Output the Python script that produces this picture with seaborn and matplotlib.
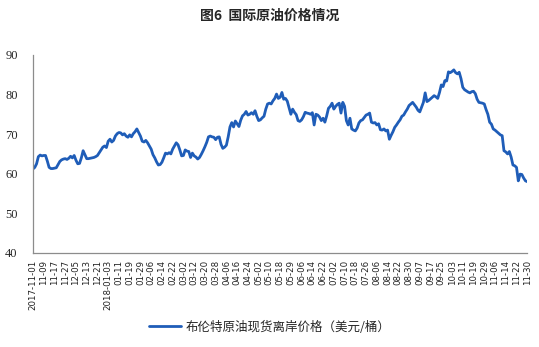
import matplotlib
matplotlib.use("Agg")
import matplotlib.pyplot as plt
import seaborn as sns
import pandas as pd

# Brent spot FOB price, trading days 2017-11-01 .. 2018-11-30 (USD/bbl)
prices = [
    61.2, 61.6, 62.5, 64.3, 64.7, 64.5,
    64.6, 64.6, 63.2, 61.6, 61.3, 61.3,
    61.4, 61.5, 62.3, 63.1, 63.5, 63.7,
    63.8, 63.6, 63.9, 64.4, 64.0, 64.6,
    63.4, 62.5, 62.6, 64.0, 65.8, 64.8,
    63.8, 63.8, 63.9, 64.0, 64.1, 64.3,
    64.6, 65.3, 66.0, 66.7, 67.0, 66.6,
    68.2, 68.7, 68.0, 68.4, 69.5, 70.1,
    70.4, 70.3, 69.8, 70.1, 69.5, 69.2,
    69.8, 69.3, 70.1, 70.6, 71.3, 70.4,
    69.5, 68.2, 68.0, 68.4, 67.8, 67.0,
    66.2, 64.8, 64.0, 63.0, 62.2, 62.3,
    62.9, 64.0, 65.2, 65.0, 65.3, 65.0,
    66.2, 67.0, 67.8, 67.3, 66.0, 64.5,
    64.6, 66.0, 65.7, 65.6, 64.1, 65.2,
    64.5, 64.2, 63.7, 64.1, 64.9, 65.8,
    66.8, 67.9, 69.3, 69.5, 69.3, 69.2,
    68.6, 69.2, 69.3, 67.4, 66.4, 66.7,
    67.2, 69.3, 71.8, 72.9, 71.8, 73.3,
    72.6, 71.9, 73.5, 74.6, 75.0, 75.7,
    74.8, 75.0, 75.4, 75.0, 75.9, 74.5,
    73.4, 73.6, 74.1, 74.5, 76.3, 77.6,
    77.8, 77.6, 78.4, 79.0, 80.1, 79.0,
    79.3, 80.5, 78.8, 79.0, 78.3, 76.7,
    75.0, 76.3, 75.5, 74.9, 73.4, 73.2,
    73.6, 74.4, 75.5, 75.3, 75.2, 75.0,
    75.4, 72.3, 75.0, 74.8, 74.3, 73.4,
    74.0, 73.0, 74.6, 76.5, 77.0, 77.8,
    76.3, 77.0, 77.5, 77.8, 75.3, 78.0,
    77.0, 73.4, 72.3, 74.0, 71.3, 71.0,
    70.8, 71.5, 72.8, 73.4, 73.6, 74.2,
    74.8, 75.0, 75.3, 73.0, 72.8, 72.9,
    72.3, 72.6, 71.1, 71.0, 71.3, 70.8,
    71.0, 68.7, 69.7, 70.6, 71.7, 72.3,
    73.0, 73.6, 74.5, 74.8, 75.6, 76.3,
    77.2, 77.6, 78.0, 77.4, 76.8, 76.0,
    75.6, 76.8, 78.0, 80.4, 78.2, 78.5,
    78.9, 79.3, 79.7, 79.4, 79.0, 80.5,
    82.4, 82.0, 83.5, 83.4, 85.7, 85.5,
    85.8, 86.2, 85.5, 85.2, 85.6, 84.0,
    81.8, 81.2, 80.9, 80.6, 80.4, 80.7,
    80.8, 80.2, 78.8, 78.0, 77.9, 77.8,
    77.6, 76.2, 75.0, 73.0, 72.5, 71.3,
    71.0, 70.6, 70.2, 69.8, 69.6, 65.8,
    65.5, 65.0, 65.6, 64.2, 62.2, 62.0,
    61.6, 58.2, 59.9, 59.8, 58.9, 58.2, 58.0,
]

# Date labels shown every sixth trading day
tick_labels = [
    "2017-11-01", "11-09", "11-17", "11-27", "12-05", "12-13", "12-21",
    "2018-01-03", "01-11", "01-19", "01-29", "02-06", "02-14", "02-22",
    "03-02", "03-12", "03-20", "03-28", "04-06", "04-16", "04-24",
    "05-02", "05-10", "05-18", "05-29", "06-06", "06-14", "06-22",
    "07-02", "07-10", "07-18", "07-26", "08-06", "08-14", "08-22",
    "08-30", "09-07", "09-17", "09-25", "10-03", "10-11", "10-19",
    "10-29", "11-06", "11-14", "11-22", "11-30",
]
tick_step = 6

y_ticks = [40, 50, 60, 70, 80, 90]

series_name = "布伦特原油现货离岸价格（美元/桶）"
title = "图6  国际原油价格情况"

sns.set_theme(style="white")
plt.rcParams["font.family"] = ["Noto Sans CJK SC", "DejaVu Sans"]
plt.rcParams["axes.unicode_minus"] = False

df = pd.DataFrame({"idx": range(len(prices)), "price": prices, "series": series_name})

fig = plt.figure(figsize=(5.39, 3.47), dpi=100)
ax = fig.add_axes([0.0612, 0.271, 0.917, 0.571])

sns.lineplot(data=df, x="idx", y="price", hue="series", palette=["#1F5DB8"],
             linewidth=2.0, ax=ax, legend=True)

ax.set_xlim(0, len(prices) - 1)
ax.set_ylim(40, 90)
ax.set_yticks(y_ticks)
ax.set_yticklabels([str(v) for v in y_ticks], family="Liberation Serif", fontsize=9)
ax.set_xticks(range(0, len(prices), tick_step))
ax.set_xticklabels(tick_labels, rotation=90, family="DejaVu Sans", fontsize=6.2,
                   color="#222222")
ax.set_xlabel("")
ax.set_ylabel("")

for side in ["top", "right"]:
    ax.spines[side].set_visible(False)
for side in ["left", "bottom"]:
    ax.spines[side].set_color("#8c8c8c")
    ax.spines[side].set_linewidth(0.9)
ax.tick_params(axis="both", which="major", direction="out", length=3, width=0.8,
               color="#8c8c8c", pad=2)
ax.tick_params(axis="y", pad=8)
ax.grid(False)

handles, labels = ax.get_legend_handles_labels()
ax.legend_.remove()
fig.legend(handles, labels, loc="center", bbox_to_anchor=(0.5, 0.057), frameon=False,
           fontsize=9, handlelength=2.6, handletextpad=0.3)

fig.text(0.5, 0.955, title, ha="center", va="center", fontsize=10, fontweight="bold")

fig.savefig("out.png", dpi=100)
